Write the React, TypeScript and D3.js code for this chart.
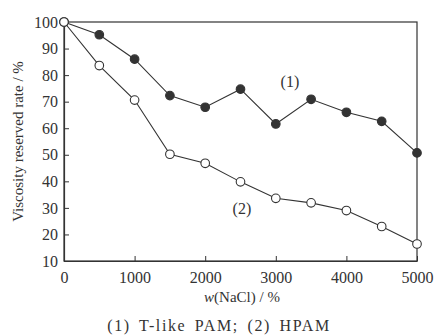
import React, { useEffect, useRef } from 'react';
import * as d3 from 'd3';

const xValues = [0, 500, 1000, 1500, 2000, 2500, 3000, 3500, 4000, 4500, 5000];
const tLikePam = [100, 95.2, 86, 72.3, 67.9, 74.7, 61.6, 70.9, 66, 62.6, 50.7];
const hpam = [100, 83.6, 70.6, 50.2, 46.8, 39.8, 33.6, 31.9, 29, 23, 16.4];
const xTicks = [0, 1000, 2000, 3000, 4000, 5000];
const yTicks = [10, 20, 30, 40, 50, 60, 70, 80, 90, 100];

export default function App() {
  const svgRef = useRef<SVGSVGElement>(null);
  const width = 436;
  const height = 335;
  const margin = { top: 22, right: 19, bottom: 74, left: 64 };

  useEffect(() => {
    if (!svgRef.current) return;
    const svg = d3.select(svgRef.current);
    svg.selectAll('*').remove();

    const innerWidth = width - margin.left - margin.right;
    const innerHeight = height - margin.top - margin.bottom;
    const ink = '#333';
    const font = '"Liberation Serif", "DejaVu Serif", serif';

    const g = svg.append('g').attr('transform', `translate(${margin.left}, ${margin.top})`);

    const x = d3.scaleLinear().domain([0, 5000]).range([0, innerWidth]);
    const y = d3.scaleLinear().domain([10, 100]).range([innerHeight, 0]);

    // frame
    g.append('rect')
      .attr('width', innerWidth)
      .attr('height', innerHeight)
      .attr('fill', 'none')
      .attr('stroke', ink)
      .attr('stroke-width', 1.2);

    // axes with inward ticks
    const xAxis = g.append('g')
      .attr('transform', `translate(0, ${innerHeight})`)
      .call(d3.axisBottom(x).tickValues(xTicks).tickFormat(d3.format('d')).tickSizeInner(-5).tickSizeOuter(0).tickPadding(11));
    const yAxis = g.append('g')
      .call(d3.axisLeft(y).tickValues(yTicks).tickSizeInner(-5).tickSizeOuter(0).tickPadding(6));

    [xAxis, yAxis].forEach(ax => {
      ax.selectAll('.domain').attr('stroke', ink).attr('stroke-width', 1.2);
      ax.selectAll('.tick line').attr('stroke', ink);
      ax.selectAll('text')
        .attr('fill', ink)
        .style('font-family', font)
        .style('font-size', '16px');
    });

    const line = d3.line<number>()
      .x((_, i) => x(xValues[i]))
      .y(d => y(d));

    const series = [
      { values: tLikePam, fill: ink },
      { values: hpam, fill: '#fff' },
    ];

    series.forEach(s => {
      g.append('path')
        .datum(s.values)
        .attr('d', line)
        .attr('fill', 'none')
        .attr('stroke', ink)
        .attr('stroke-width', 1.1);
    });

    series.forEach(s => {
      g.selectAll(null)
        .data(s.values)
        .enter().append('circle')
        .attr('cx', (_, i) => x(xValues[i]))
        .attr('cy', d => y(d))
        .attr('r', 4.3)
        .attr('fill', s.fill)
        .attr('stroke', ink)
        .attr('stroke-width', 1.1);
    });

    // series labels
    g.append('text')
      .attr('x', x(3200))
      .attr('y', y(75.5))
      .attr('text-anchor', 'middle')
      .attr('fill', ink)
      .style('font-family', font)
      .style('font-size', '16px')
      .text('(1)');
    g.append('text')
      .attr('x', x(2520))
      .attr('y', y(27.6))
      .attr('text-anchor', 'middle')
      .attr('fill', ink)
      .style('font-family', font)
      .style('font-size', '16px')
      .text('(2)');

    // axis titles
    const xTitle = svg.append('text')
      .attr('x', 242)
      .attr('y', 302)
      .attr('text-anchor', 'middle')
      .attr('fill', ink)
      .style('font-family', font)
      .style('font-size', '15px');
    xTitle.append('tspan').style('font-style', 'italic').text('w');
    xTitle.append('tspan').text('(NaCl) / %');

    svg.append('text')
      .attr('transform', `translate(23, ${margin.top + innerHeight / 2}) rotate(-90)`)
      .attr('text-anchor', 'middle')
      .attr('fill', ink)
      .style('font-family', font)
      .style('font-size', '15px')
      .text('Viscosity reserved rate / %');

    // caption
    svg.append('text')
      .attr('x', 219)
      .attr('y', 331)
      .attr('text-anchor', 'middle')
      .attr('fill', ink)
      .style('font-family', font)
      .style('font-size', '16px')
      .style('letter-spacing', '1.6px')
      .style('word-spacing', '3px')
      .text('(1) T-like PAM; (2) HPAM');
  }, []);

  return (
    <svg
      ref={svgRef}
      width={width}
      height={height}
      style={{ position: 'absolute', left: 0, top: 0, background: '#fff' }}
    />
  );
}
